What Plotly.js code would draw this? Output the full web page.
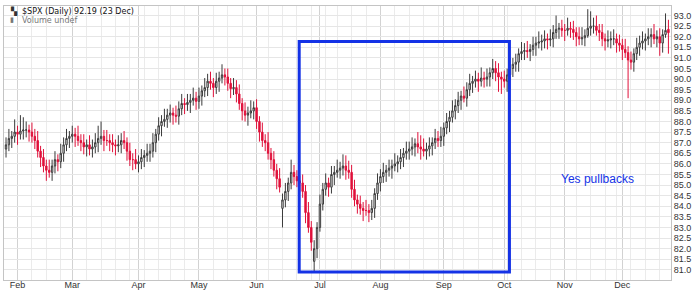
<!DOCTYPE html>
<html>
<head>
<meta charset="utf-8">
<script src="https://cdn.plot.ly/plotly-3.0.1.min.js"></script>
<style>html,body{margin:0;padding:0;background:#fff;}#chart{width:700px;height:293px;}</style>
</head>
<body>
<div id="chart"></div>
<script>
// $SPX daily, 26 Jan – 23 Dec
const startDate = '1965-01-26';
const holidays = ['1965-02-22','1965-04-16','1965-05-31','1965-07-05','1965-09-06','1965-11-02','1965-11-25'];

const openVals = [
 86.7,86.9,87.2,87.3,87.5,87.4,87.55,87.6,87.6,87.5,
 87.3,87.1,86.6,86.3,85.9,85.7,85.6,85.9,86.2,86.1,
 86.5,86.9,87.2,87.3,87.4,87.3,87.1,87.0,86.8,86.9,
 86.7,86.8,87.0,87.2,87.3,87.1,87.1,87.0,86.9,86.85,
 86.9,87.1,87.0,86.6,86.2,86.2,86.0,86.1,86.3,86.4,
 86.5,86.6,87.0,87.4,87.8,88.0,88.1,88.3,88.4,88.3,
 88.25,88.6,88.85,88.8,88.9,89.0,89.1,88.95,89.2,89.45,
 89.6,89.9,89.8,89.6,89.9,90.05,90.2,90.1,89.8,89.55,
 89.6,89.3,88.85,88.5,88.3,88.4,88.5,88.65,88.0,87.5,
 87.1,87.0,86.5,86.2,85.7,85.3,83.9,84.3,84.7,85.1,
 85.6,85.4,85.2,85.1,84.7,83.7,83.0,81.4,82.0,83.0,
 84.1,84.8,85.1,84.9,85.5,85.6,85.7,85.8,85.9,85.7,
 85.6,84.8,84.3,84.1,83.9,83.8,83.8,83.7,83.9,84.6,
 85.1,85.4,85.6,85.7,85.8,85.9,86.0,86.1,86.3,86.5,
 86.6,86.7,86.8,86.95,86.8,86.7,86.6,86.7,86.85,87.0,
 87.2,87.1,87.3,87.7,88.0,88.2,88.5,88.75,89.0,89.2,
 89.1,89.5,89.8,89.9,90.0,89.9,90.05,90.0,90.1,90.3,
 90.5,90.3,90.1,90.0,89.9,90.2,90.5,90.7,90.8,91.2,
 91.3,91.35,91.3,91.4,91.6,91.7,91.75,91.8,91.9,91.85,
 91.9,92.2,92.35,92.4,92.3,92.3,92.4,92.35,92.2,92.0,
 91.9,91.95,92.05,92.4,92.5,92.5,92.3,92.2,91.9,91.8,
 91.85,91.9,91.9,91.7,91.6,91.4,91.25,90.9,90.8,91.2,
 91.5,91.7,91.8,91.9,92.0,92.1,91.9,92.0,91.7,92.1,92.35
];
const highVals = [
 87.25,87.65,87.55,88.1,87.8,88.3,88.2,88.0,87.85,87.95,
 87.65,87.55,86.85,86.7,86.2,86.2,86.2,86.6,86.45,86.95,
 87.25,87.65,87.55,87.8,87.7,87.8,87.4,87.4,87.15,87.35,
 87.15,87.45,87.8,88.0,87.6,87.6,87.4,87.4,87.15,87.35,
 87.45,87.55,87.25,87.0,86.5,86.7,86.4,86.7,86.65,86.95,
 86.95,87.45,87.65,88.2,88.3,88.6,88.6,88.8,88.65,88.75,
 88.95,89.3,89.1,89.3,89.3,89.6,89.4,89.6,89.7,90.05,
 90.25,90.35,90.05,90.3,90.35,90.7,90.5,90.5,90.05,90.05,
 89.95,89.75,89.1,88.9,88.7,89.0,88.95,89.05,88.25,87.95,
 87.4,87.5,86.75,86.6,86.0,85.8,84.6,85.1,85.35,86.2,
 85.95,85.7,85.45,85.5,85.0,84.2,83.3,82.4,83.25,84.55,
 85.1,85.55,85.35,85.9,85.9,86.2,86.1,86.45,86.4,86.15,
 85.95,85.25,84.55,84.5,84.2,84.3,84.1,84.3,84.85,85.55,
 85.75,86.05,85.95,86.2,86.2,86.5,86.4,86.7,86.75,87.05,
 87.05,87.25,87.2,87.5,87.35,87.2,87.0,87.25,87.25,87.65,
 87.55,87.75,87.95,88.4,88.5,89.0,89.05,89.4,89.45,89.65,
 89.85,90.25,90.15,90.4,90.3,90.55,90.35,90.5,90.55,90.95,
 90.85,90.75,90.35,90.4,90.5,91.0,91.0,91.2,91.45,91.75,
 91.7,91.8,91.65,92.0,92.0,92.25,92.1,92.3,92.15,92.35,
 92.55,93.0,92.65,92.8,92.6,92.9,92.7,92.75,92.45,92.45,
 92.45,92.35,93.3,93.2,92.9,93.0,92.6,92.6,92.15,92.3,
 92.25,92.35,92.15,92.1,91.9,91.9,91.55,91.3,91.45,91.95,
 92.05,92.25,92.15,92.4,92.4,92.6,92.3,92.4,92.35,93.1,92.8
];
const lowVals = [
 86.3,86.6,86.75,87.0,86.9,87.15,87.15,87.25,87.05,87.0,
 86.7,86.3,85.85,85.6,85.2,85.35,85.2,85.55,85.65,85.8,
 86.1,86.6,86.75,87.0,86.8,86.85,86.6,86.45,86.35,86.4,
 86.3,86.5,86.55,86.9,86.6,86.85,86.6,86.55,86.4,86.55,
 86.5,86.7,86.15,85.9,85.7,85.75,85.6,85.75,85.85,86.1,
 86.1,86.3,86.55,87.1,87.3,87.75,87.7,87.95,87.85,87.95,
 87.85,88.3,88.35,88.5,88.4,88.75,88.55,88.6,88.75,89.15,
 89.2,89.5,89.15,89.3,89.4,89.8,89.7,89.45,89.1,89.25,
 88.9,88.55,88.05,88.0,87.8,88.15,88.1,87.65,87.05,86.8,
 86.6,86.2,85.75,85.4,84.8,84.65,83.0,83.95,84.25,84.8,
 85.0,84.9,84.65,84.4,83.2,82.75,81.9,80.9,81.55,82.8,
 83.8,84.5,84.45,84.6,85.0,85.35,85.3,85.45,85.25,85.3,
 84.4,84.0,83.65,83.6,83.3,83.55,83.25,83.35,83.45,84.3,
 84.7,85.1,85.15,85.4,85.3,85.65,85.6,85.75,85.85,86.2,
 86.2,86.4,86.35,86.5,86.2,86.35,86.2,86.35,86.4,86.7,
 86.8,86.8,86.85,87.4,87.5,87.95,88.1,88.4,88.55,88.9,
 88.7,89.2,89.35,89.6,89.4,89.65,89.6,89.65,89.65,90.0,
 89.9,89.4,89.3,89.6,89.4,89.95,90.1,90.35,90.35,90.9,
 90.9,91.0,90.85,91.1,91.1,91.45,91.35,91.45,91.4,91.55,
 91.5,91.9,91.9,92.0,91.8,92.05,91.95,91.85,91.55,91.6,
 91.6,91.55,91.95,92.05,92.15,92.05,91.8,91.55,91.35,91.5,
 91.45,91.6,91.25,91.3,90.9,91.0,89.1,90.45,90.35,90.9,
 91.1,91.4,91.35,91.6,91.5,91.65,91.5,91.1,91.25,91.95,91.2
];
const closeVals = [
 86.9,87.2,87.3,87.5,87.4,87.55,87.6,87.6,87.5,87.3,
 87.1,86.6,86.3,85.9,85.7,85.6,85.9,86.2,86.1,86.5,
 86.9,87.2,87.3,87.4,87.3,87.1,87.0,86.8,86.9,86.7,
 86.8,87.0,87.2,87.3,87.1,87.1,87.0,86.9,86.85,86.9,
 87.1,87.0,86.6,86.2,86.2,86.0,86.1,86.3,86.4,86.5,
 86.6,87.0,87.4,87.8,88.0,88.1,88.3,88.4,88.3,88.25,
 88.6,88.85,88.8,88.9,89.0,89.1,88.95,89.2,89.45,89.6,
 89.9,89.8,89.6,89.9,90.05,90.2,90.1,89.8,89.55,89.6,
 89.3,88.85,88.5,88.3,88.4,88.5,88.65,88.0,87.5,87.1,
 87.0,86.5,86.2,85.7,85.3,84.9,84.3,84.7,85.1,85.6,
 85.4,85.2,85.1,84.7,83.7,83.0,82.3,82.0,83.0,84.1,
 84.8,85.1,84.9,85.5,85.6,85.7,85.8,85.9,85.7,85.6,
 84.8,84.3,84.1,83.9,83.8,83.8,83.7,83.9,84.6,85.1,
 85.4,85.6,85.7,85.8,85.9,86.0,86.1,86.3,86.5,86.6,
 86.7,86.8,86.95,86.8,86.7,86.6,86.7,86.85,87.0,87.2,
 87.1,87.3,87.7,88.0,88.2,88.5,88.75,89.0,89.2,89.1,
 89.5,89.8,89.9,90.0,89.9,90.05,90.0,90.1,90.3,90.5,
 90.3,90.1,90.0,89.9,90.2,90.5,90.7,90.8,91.2,91.3,
 91.35,91.3,91.4,91.6,91.7,91.75,91.8,91.9,91.85,91.9,
 92.2,92.35,92.4,92.3,92.3,92.4,92.35,92.2,92.0,91.9,
 91.95,92.05,92.4,92.5,92.5,92.3,92.2,91.9,91.8,91.85,
 91.9,91.9,91.7,91.6,91.4,91.25,90.9,90.8,91.2,91.5,
 91.7,91.8,91.9,92.0,92.1,91.9,92.0,91.7,92.1,92.3,92.19
];
const monthNames = ['Jan','Feb','Mar','Apr','May','Jun','Jul','Aug','Sep','Oct','Nov','Dec'];

// highlighted box and note (in data units)
const boxDates = ['1965-06-22','1965-10-05'];
const boxPrices = [80.9, 91.77];
const noteText = 'Yes pullbacks';
const notePos = {date:'1965-11-18', price:85.3};

// ---- build trading calendar ----
const n = closeVals.length;
const dates = [];
{
  let d = new Date(startDate + 'T00:00:00Z');
  while (dates.length < n) {
    const iso = d.toISOString().slice(0,10);
    const wd = d.getUTCDay();
    if (wd !== 0 && wd !== 6 && holidays.indexOf(iso) < 0) dates.push(iso);
    d = new Date(d.getTime() + 86400000);
  }
}
const xs = dates.map((_, i) => i);
const monthTickVals = [], monthTickText = [], weekVals = [];
for (let i = 0; i < n; i++) {
  const d = new Date(dates[i] + 'T00:00:00Z');
  const prev = i > 0 ? new Date(dates[i-1] + 'T00:00:00Z') : null;
  if (prev && d.getUTCMonth() !== prev.getUTCMonth()) {
    monthTickVals.push(i); monthTickText.push(monthNames[d.getUTCMonth()]);
  }
  if (prev && (d.getUTCDay() < prev.getUTCDay() || (d - prev) > 3*86400000)) weekVals.push(i);
}
function idxOf(dateStr) {
  // fractional index for a calendar date
  for (let i = 0; i < n; i++) if (dates[i] >= dateStr) return i - 0.5;
  return n - 0.5;
}

const red = '#e0103a';
const blue = '#1432e6';
const last = n - 1;

const trace = {
  type: 'candlestick',
  x: xs, open: openVals, high: highVals, low: lowVals, close: closeVals,
  text: dates, hoverinfo: 'text+y',
  increasing: {line: {color: '#3a3a3a', width: 1}, fillcolor: '#ffffff'},
  decreasing: {line: {color: red, width: 1}, fillcolor: red},
  whiskerwidth: 0
};

const layout = {
  width: 700, height: 293,
  margin: {l: 4, r: 29, t: 6, b: 13},
  paper_bgcolor: '#ffffff', plot_bgcolor: '#ffffff',
  showlegend: false,
  font: {family: 'Liberation Sans, Arial, sans-serif', size: 9, color: '#333'},
  xaxis: {
    type: 'linear', range: [-0.7, n - 0.1],
    tickmode: 'array', tickvals: monthTickVals, ticktext: monthTickText,
    showgrid: true, gridcolor: '#d2d2d2', gridwidth: 1,
    minor: {tickmode: 'array', tickvals: weekVals, showgrid: true, gridcolor: '#ebebeb', gridwidth: 1},
    ticks: '', tickfont: {size: 9, color: '#333'}, ticklabelstandoff: -4,
    showline: true, linecolor: '#c4c4c4', mirror: true,
    zeroline: false, rangeslider: {visible: false}, fixedrange: true, automargin: false
  },
  yaxis: {
    side: 'right', range: [80.52, 93.45],
    tickmode: 'linear', tick0: 81, dtick: 0.5, tickformat: '.1f',
    showgrid: true, gridcolor: '#e6e6e6', gridwidth: 1,
    ticks: '', tickfont: {size: 9, color: '#333'},
    showline: true, linecolor: '#c4c4c4', mirror: true,
    zeroline: false, fixedrange: true, automargin: false
  },
  shapes: [{
    type: 'rect', xref: 'x', yref: 'y',
    x0: idxOf(boxDates[0]) + 0.3, x1: idxOf(boxDates[1]) + 0.3,
    y0: boxPrices[0], y1: boxPrices[1],
    line: {color: blue, width: 3}, fillcolor: 'rgba(0,0,0,0)'
  }],
  annotations: [
    {xref: 'x', yref: 'y', x: idxOf(notePos.date), y: notePos.price, text: noteText,
     showarrow: false, font: {family: 'Liberation Sans, Arial, sans-serif', size: 12, color: blue}},
    {xref: 'paper', yref: 'paper', x: 0, xshift: 16, y: 1, yshift: 1, xanchor: 'left', yanchor: 'top',
     text: '$SPX (Daily) ' + closeVals[last].toFixed(2) + ' (23 Dec)', showarrow: false,
     font: {family: 'DejaVu Sans, Verdana, sans-serif', size: 8, color: '#111'}},
    {xref: 'paper', yref: 'paper', x: 0, xshift: 4, y: 1, yshift: 2, xanchor: 'left', yanchor: 'top',
     text: '▚', showarrow: false,
     font: {family: 'DejaVu Sans, sans-serif', size: 8, color: '#333'}},
    {xref: 'paper', yref: 'paper', x: 0, xshift: 16, y: 1, yshift: -8, xanchor: 'left', yanchor: 'top',
     text: 'Volume undef', showarrow: false,
     font: {family: 'DejaVu Sans, Verdana, sans-serif', size: 8, color: '#777'}},
    {xref: 'paper', yref: 'paper', x: 0, xshift: 4, y: 1, yshift: -8, xanchor: 'left', yanchor: 'top',
     text: '▮', showarrow: false,
     font: {family: 'DejaVu Sans, sans-serif', size: 7, color: '#777'}}
  ]
};

Plotly.newPlot('chart', [trace], layout, {staticPlot: true, displayModeBar: false});
</script>
</body>
</html>
